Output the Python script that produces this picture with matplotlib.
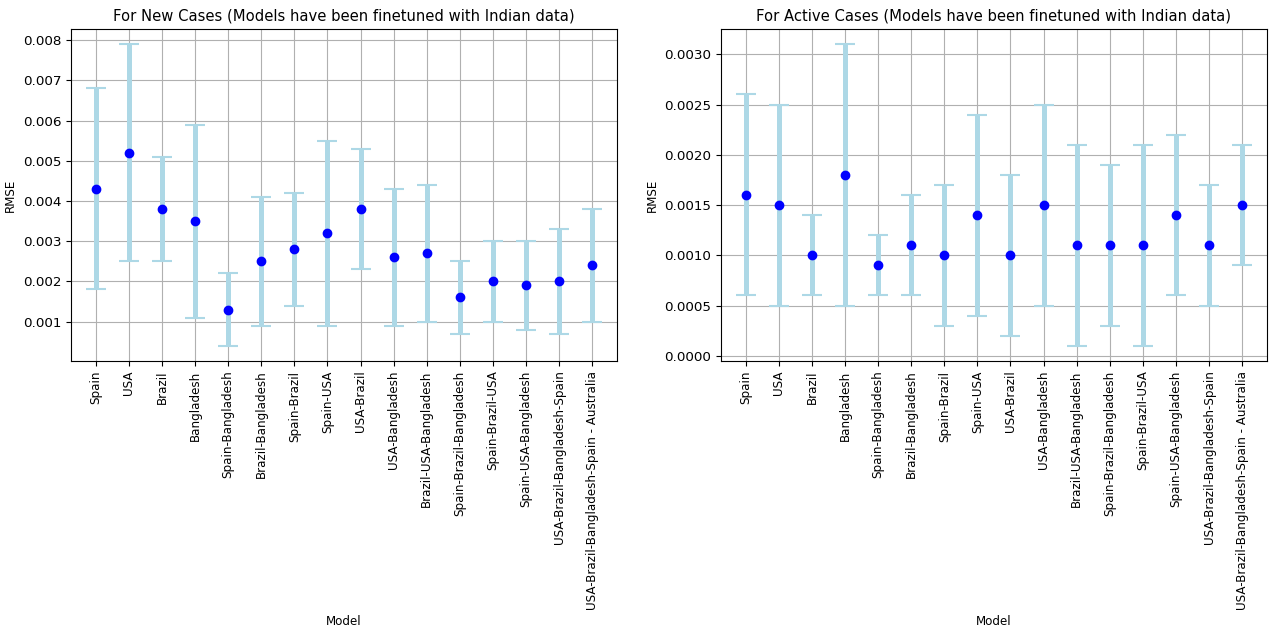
import matplotlib
matplotlib.use("Agg")
import matplotlib.pyplot as plt

plt.rcParams['font.size'] = 8.6

models = ["Spain", "USA", "Brazil", "Bangladesh", "Spain-Bangladesh", "Brazil-Bangladesh",
          "Spain-Brazil", "Spain-USA", "USA-Brazil", "USA-Bangladesh", "Brazil-USA-Bangladesh",
          "Spain-Brazil-Bangladesh", "Spain-Brazil-USA", "Spain-USA-Bangladesh",
          "USA-Brazil-Bangladesh-Spain", "USA-Brazil-Bangladesh-Spain - Australia"]

new_mean = [0.0043, 0.0052, 0.0038, 0.0035, 0.0013, 0.0025, 0.0028, 0.0032,
            0.0038, 0.0026, 0.0027, 0.0016, 0.0020, 0.0019, 0.0020, 0.0024]
new_err = [0.0025, 0.0027, 0.0013, 0.0024, 0.0009, 0.0016, 0.0014, 0.0023,
           0.0015, 0.0017, 0.0017, 0.0009, 0.0010, 0.0011, 0.0013, 0.0014]

active_mean = [0.0016, 0.0015, 0.0010, 0.0018, 0.0009, 0.0011, 0.0010, 0.0014,
               0.0010, 0.0015, 0.0011, 0.0011, 0.0011, 0.0014, 0.0011, 0.0015]
active_err = [0.0010, 0.0010, 0.0004, 0.0013, 0.0003, 0.0005, 0.0007, 0.0010,
              0.0008, 0.0010, 0.0010, 0.0008, 0.0010, 0.0008, 0.0006, 0.0006]


def draw(ax, mean, err, title):
    ax.errorbar(models, mean, yerr=err, fmt='o', color='blue', ecolor='lightblue',
                elinewidth=3.6, capsize=7.5, capthick=1.5, markersize=6)
    ax.set_title(title, fontsize=10.6)
    ax.set_xlabel("Model")
    ax.set_ylabel("RMSE")
    ax.tick_params(axis='x', labelrotation=90)
    ax.tick_params(axis='y', labelsize=9.7)
    ax.grid(True)


fig, (ax1, ax2) = plt.subplots(1, 2, figsize=(12.74, 6.33), dpi=100)
draw(ax1, new_mean, new_err, "For New Cases (Models have been finetuned with Indian data)")
draw(ax2, active_mean, active_err, "For Active Cases (Models have been finetuned with Indian data)")
plt.subplots_adjust(left=0.0557, right=0.9945, top=0.954, bottom=0.43, wspace=0.19)
plt.savefig("out.png")
